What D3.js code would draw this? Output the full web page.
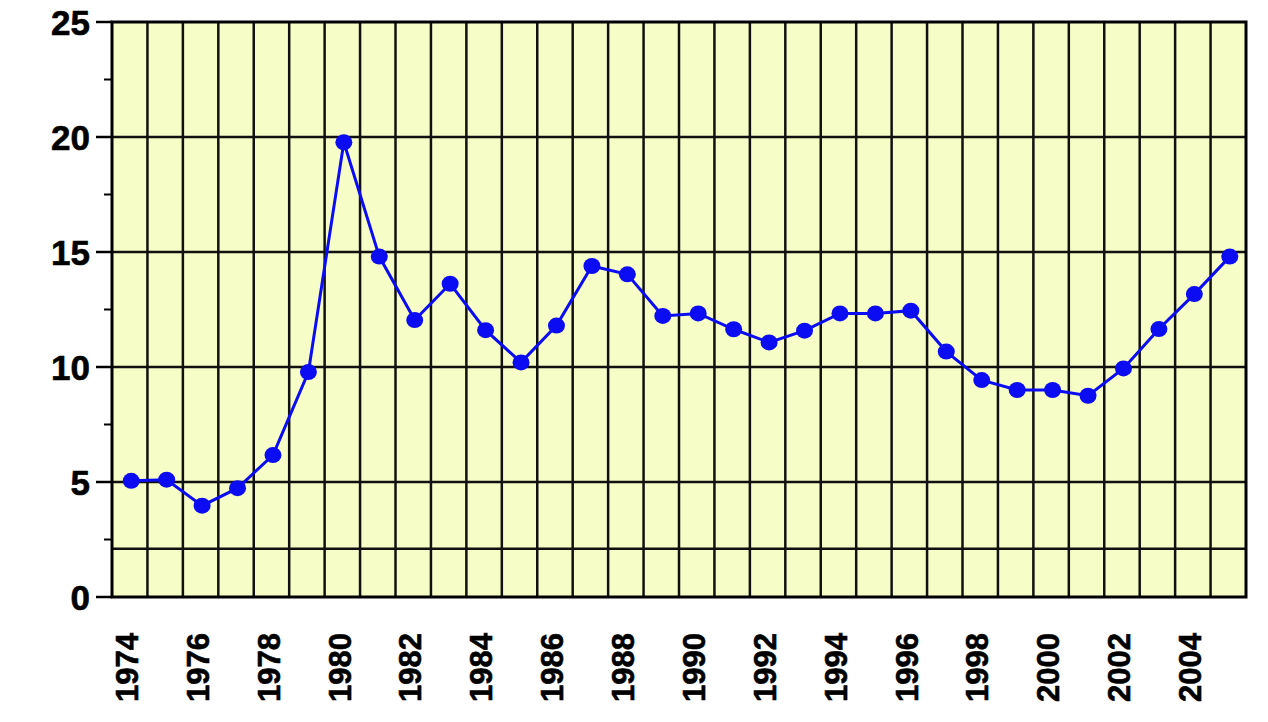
<!DOCTYPE html>
<html>
  <head>
    <meta charset="utf-8">
    <title>Annual series 1974-2005</title>
    <script src="https://cdn.jsdelivr.net/npm/d3@7"></script>
    <style>
      body { margin: 0; background: #fff; }
      text { font-family: "Liberation Sans", Arial, sans-serif; font-weight: bold; fill: #000; stroke: #000; stroke-width: 0.6px; }
    </style>
  </head>
  <body>
    <svg id="chart" width="1268" height="722"></svg>

    <script>
      // data
      const years = d3.range(1974, 2006);
      const values = [5.05, 5.1, 3.97, 4.73, 6.17, 9.78, 19.77, 14.8, 12.04, 13.62,
        11.6, 10.2, 11.8, 14.39, 14.03, 12.22, 12.33, 11.64, 11.07, 11.58,
        12.33, 12.33, 12.45, 10.67, 9.43, 9.0, 9.0, 8.75, 9.94, 11.65,
        13.17, 14.8];
      const yMajor = [0, 5, 10, 15, 20, 25];
      const yMinor = [2.5, 7.5, 12.5, 17.5, 22.5];
      const yGrid = [2.1, 5, 10, 15, 20];
      const xLabels = d3.range(1974, 2006, 2);

      // layout
      const plotLeft = 112, plotRight = 1246, plotTop = 22, plotBottom = 597;
      const svg = d3.select("#chart");

      const x = d3.scaleBand()
        .domain(years)
        .range([plotLeft, plotRight]);
      const y = d3.scaleLinear()
        .domain([0, 25])
        .range([plotBottom, plotTop]);

      // plot background
      svg.append("rect")
        .attr("x", plotLeft)
        .attr("y", plotTop)
        .attr("width", plotRight - plotLeft)
        .attr("height", plotBottom - plotTop)
        .attr("fill", "#f7fdc6");

      // vertical gridlines between years
      svg.append("g")
        .selectAll("line")
        .data(years.slice(1))
        .join("line")
          .attr("x1", d => x(d))
          .attr("x2", d => x(d))
          .attr("y1", plotTop)
          .attr("y2", plotBottom)
          .attr("stroke", "#111")
          .attr("stroke-width", 2.5);

      // horizontal gridlines
      svg.append("g")
        .selectAll("line")
        .data(yGrid)
        .join("line")
          .attr("x1", plotLeft)
          .attr("x2", plotRight)
          .attr("y1", d => y(d))
          .attr("y2", d => y(d))
          .attr("stroke", "#111")
          .attr("stroke-width", 2.5);

      // frame
      svg.append("rect")
        .attr("x", plotLeft)
        .attr("y", plotTop)
        .attr("width", plotRight - plotLeft)
        .attr("height", plotBottom - plotTop)
        .attr("fill", "none")
        .attr("stroke", "#000")
        .attr("stroke-width", 3);

      // y ticks
      svg.append("g")
        .selectAll("line")
        .data(yMajor)
        .join("line")
          .attr("x1", 96)
          .attr("x2", plotLeft)
          .attr("y1", d => y(d))
          .attr("y2", d => y(d))
          .attr("stroke", "#000")
          .attr("stroke-width", 2.5);
      svg.append("g")
        .selectAll("line")
        .data(yMinor)
        .join("line")
          .attr("x1", 104)
          .attr("x2", plotLeft)
          .attr("y1", d => y(d))
          .attr("y2", d => y(d))
          .attr("stroke", "#000")
          .attr("stroke-width", 2);

      svg.append("g")
        .selectAll("text")
        .data(yMajor)
        .join("text")
          .attr("x", 90)
          .attr("y", d => y(d))
          .attr("dy", "0.36em")
          .attr("text-anchor", "end")
          .style("font-size", "35px")
          .text(d => d);

      // x labels, rotated
      svg.append("g")
        .selectAll("text")
        .data(xLabels)
        .join("text")
          .attr("transform", d => "translate(" + (x(d) + x.bandwidth() / 2 - 3) + ",633) rotate(-90)")
          .attr("dy", "0.36em")
          .attr("text-anchor", "end")
          .style("font-size", "31px")
          .text(d => d);

      // series
      const cx = (d, i) => x(years[i]) + x.bandwidth() / 2 + 1.5;
      const line = d3.line()
        .x(cx)
        .y(d => y(d));
      svg.append("path")
        .datum(values)
        .attr("d", line)
        .attr("fill", "none")
        .attr("stroke", "#0c0cf2")
        .attr("stroke-width", 3);
      svg.append("g")
        .selectAll("ellipse")
        .data(values)
        .join("ellipse")
          .attr("cx", cx)
          .attr("cy", d => y(d))
          .attr("rx", 8.5)
          .attr("ry", 8)
          .attr("fill", "#0c0cf2");
    </script>
  </body>
</html>
